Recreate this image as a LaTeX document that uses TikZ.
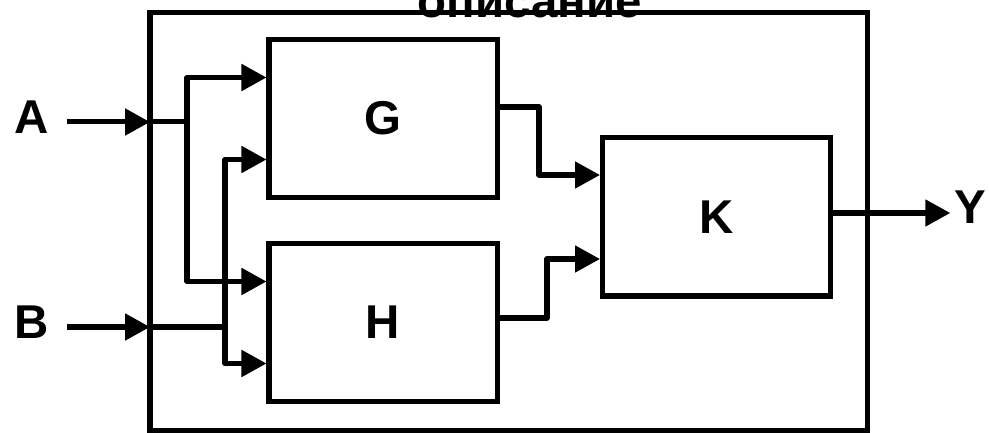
\documentclass[tikz,border=0pt]{standalone}
\usepackage{fontspec}
\setmainfont{Liberation Sans}
\usetikzlibrary{arrows.meta,calc}

\tikzset{
  block/.style={draw,line width=2.85pt,minimum width=4.56cm,minimum height=3.16cm},
  wire/.style={line width=2.85pt,line join=round},
  conn/.style={wire,-{Triangle[length=0.5cm,width=0.52cm]}}
}

\begin{document}
\begin{tikzpicture}[font=\fontsize{27}{32}\selectfont\bfseries]
			\useasboundingbox (0,0) rectangle (19.8,8.66);
			% system
			\node[draw,line width=2.85pt,minimum width=14.34cm,minimum height=8.36cm] (sys) at (10.17,4.22) {};
			\node[anchor=base] (title) at (10.6,8.3) {описание};
			% blocks
			\node[block] (G) at (7.66,6.29) {G};
			\node[block] (H) at (7.66,2.21) {H};
			\node[block] (K) at (14.33,4.32) {K};
			% inputs, output
			\node (A) at (0.64,6.32) {A};
			\node (B) at (0.64,2.22) {B};
			\node[inner sep=2pt] (Y) at (19.4,4.52) {Y};
			% ports
			\coordinate (ina) at (3,6.22);
			\coordinate (inb) at (3,2.12);
			\coordinate (ja) at (3.74,6.22);
			\coordinate (jb) at (4.5,2.12);
			\coordinate (g1) at ($(G.west)+(0,0.82)$);
			\coordinate (g2) at ($(G.west)+(0,-0.82)$);
			\coordinate (h1) at ($(H.west)+(0,0.82)$);
			\coordinate (h2) at ($(H.west)+(0,-0.82)$);
			\coordinate (k1) at ($(K.west)+(0,0.84)$);
			\coordinate (k2) at ($(K.west)+(0,-0.84)$);
			\coordinate (kout) at ($(K.east)+(0,0.08)$);
			% A
			\draw[conn,shorten <=0.24cm] (A.east |- ina) -- (ina);
			\draw[wire] (ina) -- (ja);
			\draw[conn] (ja) |- (g1);
			\draw[conn] (ja) |- (h1);
			% B
			\draw[conn,shorten <=0.24cm] (B.east |- inb) -- (inb);
			\draw[wire] (inb) -- (jb);
			\draw[conn] (jb) |- (g2);
			\draw[conn] (jb) |- (h2);
			% G, H to K
			\draw[conn] ($(G.east)+(0,0.23)$) -| ([xshift=-1.22cm]k1) -- (k1);
			\draw[conn] ($(H.east)+(0,0.09)$) -| ([xshift=-1.06cm]k2) -- (k2);
			% Y
			\draw[conn] (kout) -- (kout -| Y.west);
\end{tikzpicture}
\end{document}
